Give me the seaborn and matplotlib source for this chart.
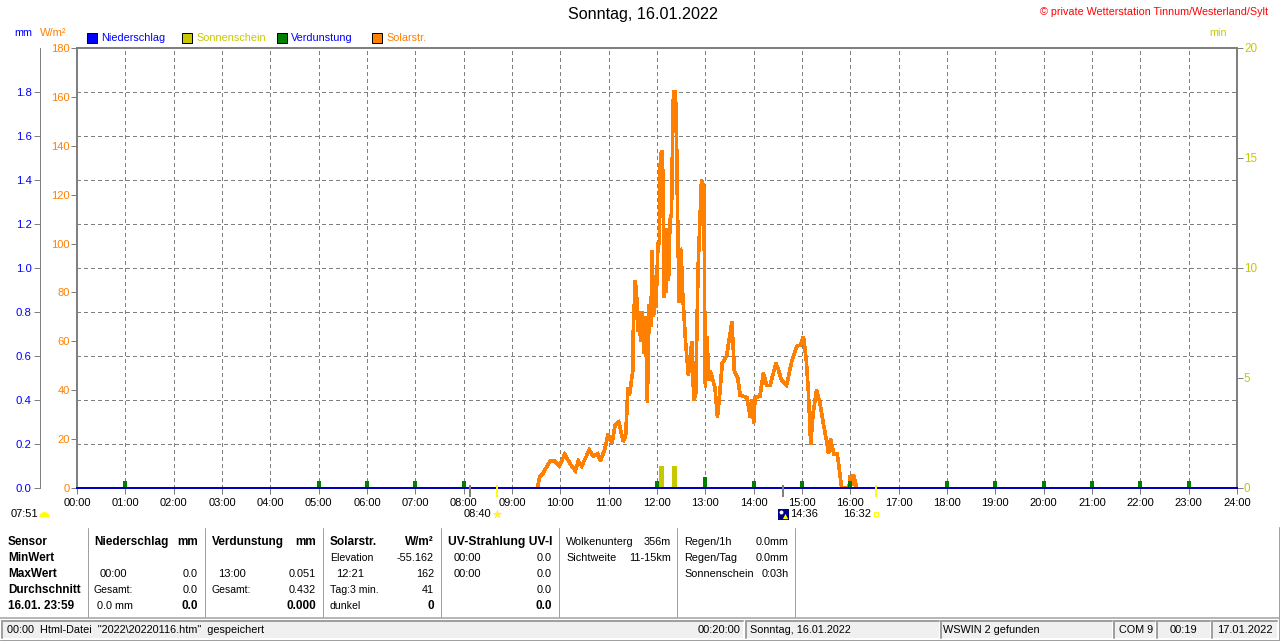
import matplotlib
matplotlib.use('Agg')
import matplotlib.pyplot as plt
from matplotlib.patches import Rectangle, Wedge
import seaborn as sns

# ── Values ─────────────────────────────────────────────────────────────────────
solar_time = [9.53, 9.57, 9.64, 9.72, 9.79, 9.89, 9.98, 10.09, 10.2, 10.31, 10.37, 10.44, 10.6, 10.68, 10.77,
              10.83, 10.92, 10.99, 11.07, 11.13, 11.21, 11.3, 11.35, 11.4, 11.43, 11.5, 11.51, 11.55, 11.58,
              11.6, 11.63, 11.66, 11.7, 11.73, 11.76, 11.8, 11.84, 11.87, 11.9, 11.93, 11.96, 11.98, 12.02,
              12.05, 12.07, 12.1, 12.13, 12.14, 12.16, 12.19, 12.21, 12.24, 12.27, 12.3, 12.32, 12.34, 12.38,
              12.4, 12.42, 12.44, 12.46, 12.48, 12.5, 12.53, 12.59, 12.65, 12.72, 12.76, 12.8, 12.85, 12.92,
              12.97, 12.99, 13.0, 13.03, 13.08, 13.1, 13.2, 13.25, 13.3, 13.35, 13.44, 13.55, 13.6, 13.67,
              13.72, 13.86, 13.93, 13.96, 14.0, 14.03, 14.13, 14.2, 14.27, 14.34, 14.46, 14.5, 14.58, 14.68,
              14.79, 14.89, 14.97, 15.03, 15.09, 15.13, 15.18, 15.23, 15.3, 15.37, 15.44, 15.51, 15.55, 15.59,
              15.66, 15.73, 15.79, 15.82, 15.97, 16.0, 16.03, 16.05, 16.07, 16.13]
solar_value = [0, 4.6, 6, 8.7, 11, 11, 9, 13.8, 10, 7, 11, 9, 15.5, 13, 14,
               11, 16, 22, 18.5, 25.5, 27, 19, 21, 41, 38, 48, 65, 85, 78,
               64, 72, 60, 72, 55, 70, 35, 75, 66, 97, 70, 85, 74, 100,
               100, 136, 138, 125, 78, 106, 80, 106, 85, 110, 112, 140, 162, 162,
               150, 120, 95, 76, 98, 97, 80, 60, 46, 60, 36, 38, 90, 126,
               123, 63, 41, 62, 44, 48, 41, 29, 39, 51, 54, 68, 48, 45,
               38, 37, 29, 36, 26.5, 37, 37.5, 47, 42, 42, 51, 49, 44, 42,
               52, 58, 58.5, 62, 52, 40, 18, 30.6, 40, 35, 26.5, 19, 14, 20,
               14, 14, 4.6, 0, 0, 5, 1, 5, 5, 0]

evap_hours = [1, 5, 6, 7, 8, 12, 13, 14, 15, 16, 18, 19, 20, 21, 22, 23]
evap_mm = [0.03, 0.03, 0.03, 0.03, 0.03, 0.03, 0.051, 0.03, 0.03, 0.03, 0.03, 0.03, 0.03, 0.03, 0.03, 0.03]

sun_time = [12.09, 12.36]
sun_min = [1, 1]

rain_time = [0, 24]
rain_mm = [0, 0]

hour_labels = ['%02d:00' % h for h in range(25)]
wm2_ticks = list(range(0, 181, 20))
mm_ticks = [0.0, 0.2, 0.4, 0.6, 0.8, 1.0, 1.2, 1.4, 1.6, 1.8]
min_ticks = [0, 5, 10, 15, 20]

marker_gray = [8.13, 14.6]
marker_yellow = [8.68, 16.53]

ORANGE = '#ff8000'
OLIVE = '#c8c800'
GREEN = '#008000'
BLUE = '#0000ff'
GRAY = '#808080'

W, H = 1280, 641
PX = 72 / 100
TICK_SIZE = 8
BOLD_SIZE = 8.5

sns.set_theme(style='white')
plt.rcParams['font.family'] = ['Liberation Sans', 'DejaVu Sans']
plt.rcParams['font.size'] = 7.8

fig = plt.figure(figsize=(W / 100, H / 100), dpi=100, facecolor='white')
rect = [77 / W, 1 - 488 / H, (1237 - 77) / W, (488 - 48) / H]

# ── Main axes: solar radiation ─────────────────────────────────────────────────
ax = fig.add_axes(rect, zorder=1)
ax.set_xlim(0, 24)
ax.set_ylim(0, 180)
ax.set_xticks(range(25))
ax.set_xticklabels(hour_labels, color='black')
ax.set_yticks(wm2_ticks)
# the horizontal grid follows the mm scale, not the W/m2 labels
ax.set_yticks([v * 90 for v in mm_ticks[1:]], minor=True)
ax.tick_params(axis='y', which='major', labelcolor=ORANGE, labelsize=8, length=4, width=1 * PX, color=GRAY, pad=1,
               left=True)
ax.tick_params(axis='y', which='minor', length=0)
ax.tick_params(axis='x', length=4, width=1 * PX, color=GRAY, pad=3, bottom=True, labelsize=TICK_SIZE,
               labelcolor='black')
ax.grid(True, axis='x', which='major', color=GRAY, linestyle=(0, (4, 3)), linewidth=1 * PX, antialiased=False)
ax.grid(True, axis='y', which='minor', color=GRAY, linestyle=(0, (4, 3)), linewidth=1 * PX, antialiased=False)
ax.grid(False, axis='y', which='major')
ax.set_axisbelow(True)
for s in ax.spines.values():
    s.set_color(GRAY)
    s.set_linewidth(2 * PX)

sns.lineplot(x=solar_time, y=solar_value, estimator=None, sort=False, color=ORANGE, linewidth=2.6 * PX, ax=ax,
             legend=False, solid_joinstyle='miter', antialiased=False)
ax.set_xlabel('')
ax.set_ylabel('')

# ── Sunshine minutes on the right axis ─────────────────────────────────────────
ax_min = ax.twinx()
ax_min.set_zorder(2)
ax_min.patch.set_visible(False)
ax_min.set_ylim(0, 20)
ax_min.set_yticks(min_ticks)
ax_min.tick_params(axis='y', labelcolor=OLIVE, labelsize=8.4, length=4, width=1 * PX, color=GRAY, pad=1, right=True)
ax_min.grid(False)
ax_min.bar(sun_time, sun_min, width=[4.5 / 48.33, 5 / 48.33], color=OLIVE, linewidth=0)
for s in ax_min.spines.values():
    s.set_visible(False)

# ── Evaporation and rain on the left mm axis ───────────────────────────────────
ax_mm = ax.twinx()
ax_mm.set_zorder(3)
ax_mm.patch.set_visible(False)
ax_mm.set_ylim(0, 2.0)
ax_mm.yaxis.set_label_position('left')
ax_mm.yaxis.tick_left()
ax_mm.set_yticks(mm_ticks)
ax_mm.set_yticklabels(['%.1f' % v for v in mm_ticks])
ax_mm.tick_params(axis='y', labelcolor=BLUE, labelsize=8.2, length=4, width=1 * PX, color=GRAY, pad=2, left=True)
ax_mm.grid(False)
for s in ax_mm.spines.values():
    s.set_visible(False)
ax_mm.spines['left'].set_visible(True)
ax_mm.spines['left'].set_position(('outward', 37 * PX))
ax_mm.spines['left'].set_color(GRAY)
ax_mm.spines['left'].set_linewidth(1 * PX)
ax_mm.bar(evap_hours, evap_mm, width=4 / 48.33, color=GREEN, linewidth=0)
sns.lineplot(x=rain_time, y=rain_mm, estimator=None, color='#0000c0', linewidth=2 * PX, ax=ax_mm, legend=False,
             antialiased=False)
ax_mm.set_xlabel('')
ax_mm.set_ylabel('')
ax_mm.lines[-1].set_clip_on(False)

# ── Overlay in pixel coordinates for header, legend and the table below ────────
ov = fig.add_axes([0, 0, 1, 1], zorder=5)
ov.set_xlim(0, W)
ov.set_ylim(H, 0)
ov.axis('off')


def txt(x, y, s, color='black', ha='left', bold=False, size=None):
    if size is None:
        size = BOLD_SIZE if bold else 7.8
    ov.text(x, y, s, color=color, ha=ha, va='center', fontsize=size, fontweight='bold' if bold else 'normal')


txt(643, 15, 'Sonntag, 16.01.2022', ha='center', size=11.6)
txt(1268, 12, '© private Wetterstation Tinnum/Westerland/Sylt', color='#ff0000', ha='right', size=7.75)
txt(14, 33, 'mm', color=BLUE)
txt(40, 33, 'W/m²', color=ORANGE, size=8)
txt(1209, 33, 'min', color=OLIVE)

legend_x = [87, 182, 277, 372]
legend_names = ['Niederschlag', 'Sonnenschein', 'Verdunstung', 'Solarstr.']
legend_fill = [BLUE, OLIVE, GREEN, ORANGE]
legend_text = [BLUE, OLIVE, BLUE, ORANGE]
for lx, name, fc, tc in zip(legend_x, legend_names, legend_fill, legend_text):
    ov.add_patch(Rectangle((lx, 33), 10, 10, facecolor=fc, edgecolor='black', linewidth=1 * PX))
    txt(lx + 14, 38, name, color=tc)

# sunrise / sunset marks under the time axis
for t in marker_gray:
    xp = 77 + t * (1160 / 24)
    ov.plot([xp, xp], [485, 497], color=GRAY, linewidth=2 * PX, solid_capstyle='butt')
for t in marker_yellow:
    xp = 77 + t * (1160 / 24)
    ov.plot([xp, xp], [485, 497], color='#ffff00', linewidth=2 * PX, solid_capstyle='butt')

txt(11, 514, '07:51', size=TICK_SIZE)
ov.add_patch(Wedge((44.5, 517), 5, 180, 360, facecolor='#ffff00', edgecolor='none'))
txt(464, 514, '08:40', size=TICK_SIZE)
ov.scatter([497], [514], s=34, color='#ffff00', marker='*', linewidth=0.5, edgecolor='#ffe060')
ov.add_patch(Rectangle((778, 509), 11, 11, facecolor='#000080', edgecolor='none'))
ov.scatter([781], [512], s=8, color='white', linewidth=0)
ov.scatter([785], [516], s=14, color='#ffff00', marker='^', linewidth=0)
txt(790, 514, '14:36', size=TICK_SIZE)
txt(843, 514, '16:32', size=TICK_SIZE)
ov.add_patch(Rectangle((874, 512), 4, 4, facecolor='white', edgecolor='#ffff00', linewidth=1 * PX))

# table
for xp in [88, 205, 323, 441, 559, 677, 795]:
    ov.plot([xp, xp], [528, 617], color='#a0a0a0', linewidth=1 * PX)
ov.plot([0, W], [618, 618], color='#a0a0a0', linewidth=1.5 * PX)
ov.plot([1279, 1279], [527, 640], color='#a0a0a0', linewidth=1 * PX)

rows = [542, 558, 574, 590, 606]
for yp, s in zip(rows, ['Sensor', 'MinWert', 'MaxWert', 'Durchschnitt', '16.01. 23:59']):
    txt(8, yp, s, bold=True)

txt(94, rows[0], 'Niederschlag', bold=True)
txt(198, rows[0], 'mm', ha='right', bold=True)
txt(100, rows[2], '00:00', size=TICK_SIZE)
txt(198, rows[2], '0.0', ha='right')
txt(94, rows[3], 'Gesamt:', size=7.5)
txt(198, rows[3], '0.0', ha='right')
txt(97, rows[4], '0.0 mm')
txt(198, rows[4], '0.0', ha='right', bold=True)

txt(212, rows[0], 'Verdunstung', bold=True)
txt(316, rows[0], 'mm', ha='right', bold=True)
txt(218, rows[2], '13:00', size=TICK_SIZE)
txt(316, rows[2], '0.051', ha='right')
txt(212, rows[3], 'Gesamt:', size=7.5)
txt(316, rows[3], '0.432', ha='right')
txt(316, rows[4], '0.000', ha='right', bold=True)

txt(330, rows[0], 'Solarstr.', bold=True)
txt(434, rows[0], 'W/m²', ha='right', bold=True)
txt(330, rows[1], 'Elevation', size=7.6)
txt(434, rows[1], '-55.162', ha='right')
txt(336, rows[2], '12:21', size=TICK_SIZE)
txt(434, rows[2], '162', ha='right')
txt(330, rows[3], 'Tag:3 min.', size=7.6)
txt(434, rows[3], '41', ha='right')
txt(330, rows[4], 'dunkel', size=7.6)
txt(434, rows[4], '0', ha='right', bold=True)

txt(448, rows[0], 'UV-Strahlung UV-I', bold=True, size=8.7)
txt(454, rows[1], '00:00', size=TICK_SIZE)
txt(552, rows[1], '0.0', ha='right')
txt(454, rows[2], '00:00', size=TICK_SIZE)
txt(552, rows[2], '0.0', ha='right')
txt(552, rows[3], '0.0', ha='right')
txt(552, rows[4], '0.0', ha='right', bold=True)

txt(566, rows[0], 'Wolkenunterg')
txt(671, rows[0], '356m', ha='right')
txt(566, rows[1], 'Sichtweite')
txt(671, rows[1], '11-15km', ha='right')

txt(684, rows[0], 'Regen/1h')
txt(789, rows[0], '0.0mm', ha='right')
txt(684, rows[1], 'Regen/Tag')
txt(789, rows[1], '0.0mm', ha='right')
txt(684, rows[2], 'Sonnenschein')
txt(789, rows[2], '0:03h', ha='right')

# status bar
for x0, x1 in [(2, 743), (746, 939), (941, 1112), (1114, 1155), (1157, 1210), (1212, 1277)]:
    ov.add_patch(Rectangle((x0, 621), x1 - x0, 17, facecolor='#f0f0f0', edgecolor='none'))
    ov.plot([x0, x0, x1], [638, 621, 621], color='#a0a0a0', linewidth=2 * PX, solid_joinstyle='miter')
ov.plot([0, W], [640, 640], color='#a0a0a0', linewidth=1 * PX)

txt(7, 630, '00:00  Html-Datei  "2022\\20220116.htm"  gespeichert')
txt(741, 630, '00:20:00', ha='right', size=TICK_SIZE)
txt(750, 630, 'Sonntag, 16.01.2022', size=7.75)
txt(943, 630, 'WSWIN 2 gefunden')
txt(1119, 630, 'COM 9')
txt(1183, 630, '00:19', ha='center', size=TICK_SIZE)
txt(1245, 630, '17.01.2022', ha='center', size=TICK_SIZE)

fig.savefig('out.png', dpi=100)
plt.close(fig)
